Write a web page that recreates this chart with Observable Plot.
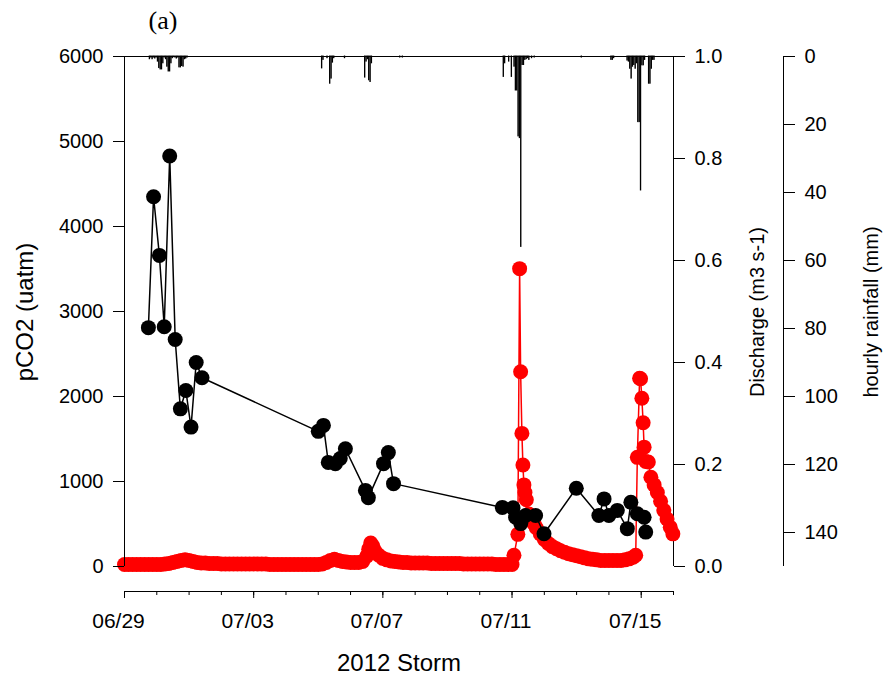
<!DOCTYPE html>
<html>
<head>
<meta charset="utf-8">
<script src="https://cdn.jsdelivr.net/npm/d3@7"></script>
<script src="https://cdn.jsdelivr.net/npm/@observablehq/plot@0.6"></script>
<style>
  html, body { margin: 0; padding: 0; background: white; }
  #chart { position: relative; width: 887px; height: 679px; overflow: hidden; }
  #chart svg { position: absolute; left: 0; top: 0; }
</style>
</head>
<body>
<div id="chart"></div>
<script>
// ---------- data (days / hours counted from 2012-06-29 00:00) ----------
const startDate = "2012-06-29";
const endDate = "2012-07-16";

// pCO2 (uatm), black series
const pco2Day = [0.74, 0.90, 1.08, 1.23, 1.40, 1.57, 1.73, 1.90, 2.06, 2.22, 2.40,
  6.00, 6.16, 6.31, 6.53, 6.68, 6.84, 7.46, 7.55, 8.02, 8.17, 8.33,
  11.70, 12.03, 12.11, 12.27, 12.42, 12.73, 12.99, 13.99, 14.69, 14.85, 15.00, 15.26, 15.57, 15.68, 15.88, 16.09, 16.14];
const pco2Value = [2810, 4350, 3660, 2820, 4830, 2670, 1855, 2070, 1640, 2400, 2220,
  1590, 1660, 1225, 1210, 1270, 1385, 895, 810, 1210, 1340, 975,
  695, 690, 580, 505, 600, 600, 385, 920, 600, 795, 600, 660, 445, 755, 620, 580, 405];

// Discharge (m3 s-1), red series
const dischargeDay = [
  0, 0.125, 0.25, 0.375, 0.5, 0.625, 0.75, 0.875,
  1, 1.125, 1.25, 1.375, 1.5, 1.625, 1.75, 1.875,
  2, 2.125, 2.25, 2.375, 2.5, 2.625, 2.75, 2.875,
  3, 3.125, 3.25, 3.375, 3.5, 3.625, 3.75, 3.875,
  4, 4.125, 4.25, 4.375, 4.5, 4.625, 4.75, 4.875,
  5, 5.125, 5.25, 5.375, 5.5, 5.625, 5.75, 5.875,
  6, 6.125, 6.25, 6.375, 6.5, 6.625, 6.75, 6.875,
  7, 7.125, 7.25, 7.375, 7.5, 7.5625, 7.625, 7.6875, 7.75, 7.875,
  8, 8.125, 8.25, 8.375, 8.5, 8.625, 8.75, 8.875,
  9, 9.125, 9.25, 9.375, 9.5, 9.625, 9.75, 9.875,
  10, 10.125, 10.25, 10.375, 10.5, 10.625, 10.75, 10.875,
  11, 11.125, 11.25, 11.375, 11.5, 11.625, 11.75, 11.875,
  12, 12.06, 12.18, 12.235, 12.266, 12.306, 12.337, 12.368, 12.40, 12.443, 12.52, 12.6, 12.68, 12.75, 12.875,
  13, 13.125, 13.25, 13.375, 13.5, 13.625, 13.75, 13.875,
  14, 14.125, 14.25, 14.375, 14.5, 14.625, 14.75, 14.875,
  15, 15.125, 15.25, 15.375, 15.5, 15.625, 15.75, 15.83, 15.88, 15.95, 15.98,
  16.02, 16.06, 16.09, 16.14, 16.22, 16.30, 16.4, 16.5, 16.6, 16.7, 16.8, 16.9, 16.98];
const dischargeValue = [
  0.004, 0.004, 0.004, 0.004, 0.004, 0.004, 0.004, 0.004,
  0.004, 0.004, 0.005, 0.006, 0.008, 0.010, 0.012, 0.013,
  0.012, 0.010, 0.008, 0.007, 0.007, 0.006, 0.006, 0.006,
  0.005, 0.005, 0.005, 0.005, 0.005, 0.005, 0.005, 0.005,
  0.005, 0.005, 0.005, 0.005, 0.004, 0.004, 0.004, 0.004,
  0.004, 0.004, 0.004, 0.004, 0.004, 0.004, 0.004, 0.004,
  0.004, 0.005, 0.008, 0.012, 0.014, 0.012, 0.010, 0.009,
  0.008, 0.008, 0.008, 0.010, 0.020, 0.034, 0.046, 0.040, 0.031, 0.022,
  0.016, 0.013, 0.011, 0.010, 0.009, 0.008, 0.008, 0.007,
  0.007, 0.007, 0.007, 0.007, 0.006, 0.006, 0.006, 0.006,
  0.006, 0.006, 0.006, 0.006, 0.005, 0.005, 0.005, 0.005,
  0.005, 0.005, 0.005, 0.005, 0.004, 0.004, 0.004, 0.004,
  0.004, 0.022, 0.063, 0.584, 0.382, 0.261, 0.199, 0.160, 0.145, 0.131, 0.103, 0.092, 0.084, 0.076, 0.064,
  0.053, 0.045, 0.039, 0.035, 0.031, 0.028, 0.025, 0.023,
  0.021, 0.019, 0.017, 0.015, 0.014, 0.013, 0.012, 0.012,
  0.012, 0.012, 0.012, 0.012, 0.013, 0.015, 0.018, 0.022, 0.214, 0.369, 0.368,
  0.330, 0.282, 0.234, 0.206, 0.205, 0.175, 0.160, 0.145, 0.128, 0.110, 0.093, 0.077, 0.064];

// hourly rainfall (mm), hour counted from 2012-06-29 00:00
const rainHour = [18, 19, 20, 21, 22, 23, 24, 25, 26, 27, 28, 29, 30, 31, 32, 33, 34, 35, 36, 37, 38, 39, 40, 41, 42, 43, 44, 45, 46,
  146, 147, 150, 152, 153, 154, 155, 163, 178, 179, 180, 181, 182, 183, 204, 206,
  281, 282, 285, 287, 289, 290, 291, 292, 293, 294, 295, 296, 297, 298, 299, 300, 302, 304, 339,
  361, 362, 363, 373, 374, 375, 376, 377, 378, 379, 380, 381, 382, 383, 384, 385, 386, 389, 390, 391, 392, 393];
const rainMM = [0.8, 0.3, 0.8, 0.3, 0.6, 0.3, 1.5, 3.4, 3.8, 3.8, 2.0, 0.3, 0.8, 3.0, 4.4, 4.4, 2.0, 0.5, 0.2, 0.3, 0.6, 0.3, 3.2, 3.2, 2.8, 3.0, 0.8, 0.6, 0.3,
  3.5, 1.0, 0.5, 8.0, 6.5, 1.8, 0.5, 0.5, 6.2, 1.5, 0.8, 7.0, 7.5, 2.0, 0.3, 0.3,
  6.0, 2.0, 1.5, 6.0, 3.0, 10, 10, 23.5, 24, 56, 2.5, 2.5, 1.0, 0.8, 0.5, 1.0, 0.5, 0.3, 0.3,
  1.0, 1.0, 0.5, 1.2, 1.5, 3.6, 6.5, 3.0, 2.5, 3.6, 2.0, 19.3, 19.3, 39.4, 2.6, 2.6, 1.0, 8.0, 8.0, 3.6, 1.0, 1.0];

// axis ticks / labels
const pco2Ticks = [0, 1000, 2000, 3000, 4000, 5000, 6000];
const dischargeTicks = [0, 0.2, 0.4, 0.6, 0.8, 1.0];
const rainTicks = [0, 20, 40, 60, 80, 100, 120, 140];
const dateLabels = ["2012-06-29", "2012-07-03", "2012-07-07", "2012-07-11", "2012-07-15"];
const titles = {left: "pCO2 (uatm)", discharge: "Discharge (m3 s-1)", rain: "hourly rainfall (mm)", x: "2012 Storm", panel: "(a)"};

// ---------- build tables ----------
const t0 = new Date(startDate + "T00:00:00Z");
const t1 = new Date(endDate + "T00:00:00Z");
const fromDays = (d) => new Date(+t0 + d * 864e5);
const pco2 = pco2Day.map((d, i) => ({date: fromDays(d), value: pco2Value[i]}));
const discharge = dischargeDay.map((d, i) => ({date: fromDays(d), value: dischargeValue[i]}));
const rain = rainHour.map((h, i) => ({date: fromDays(h / 24), mm: rainMM[i]}));
const dayTicks = d3.utcDay.range(t0, d3.utcDay.offset(t1, 1));
const labelTicks = dateLabels.map((s) => new Date(s + "T00:00:00Z"));
const fmt = d3.utcFormat("%m/%d");

const W = 887, H = 679;
const font = "'Liberation Sans', Arial, Helvetica, sans-serif";
const common = {
  width: W, height: H,
  marginTop: 56, marginLeft: 124, marginRight: 214, marginBottom: 88,
  style: {background: "transparent", overflow: "visible", fontFamily: font, fontSize: "20px", color: "black"}
};
const xOpts = {type: "utc", domain: [t0, t1]};
const insetBottom = 25;

// rain bars (bottom layer)
const rainPlot = Plot.plot({
  ...common,
  x: {...xOpts, axis: null},
  y: {domain: [0, 150], reverse: true, insetBottom, axis: null},
  marks: [
    Plot.rectY(rain, {x: "date", y: "mm", interval: "hour", fill: "black", stroke: "black", strokeWidth: 1})
  ]
});

// discharge (red) with its right axis
const dischargePlot = Plot.plot({
  ...common,
  x: {...xOpts, axis: null},
  y: {domain: [0, 1], insetBottom},
  marks: [
    Plot.ruleX([t1], {y1: 0, y2: 1, stroke: "black"}),
    Plot.axisY(dischargeTicks, {anchor: "right", tickSize: 11, tickPadding: 10, tickFormat: d3.format(".1f"), label: null}),
    Plot.text([titles.discharge], {frameAnchor: "right", textAnchor: "middle", lineAnchor: "middle", rotate: -90, dx: 84, dy: -12, fontSize: 20}),
    Plot.line(discharge, {x: "date", y: "value", stroke: "#ff0000", strokeWidth: 1.5}),
    Plot.dot(discharge, {x: "date", y: "value", r: 7.5, fill: "#ff0000", stroke: "none"})
  ]
});

// rainfall axis (detached, further right)
const rainAxisPlot = Plot.plot({
  width: W, height: H,
  marginTop: 56, marginBottom: 88, marginLeft: 700, marginRight: 104,
  style: common.style,
  x: {domain: [0, 1], axis: null},
  y: {domain: [0, 150], reverse: true, insetBottom},
  marks: [
    Plot.ruleX([1], {y1: 0, y2: 150, stroke: "black"}),
    Plot.axisY(rainTicks, {anchor: "right", tickSize: 11, tickPadding: 10, label: null}),
    Plot.text([titles.rain], {frameAnchor: "right", textAnchor: "middle", lineAnchor: "middle", rotate: -90, dx: 88, dy: -12, fontSize: 20})
  ]
});

// main pCO2 plot (top layer)
const mainPlot = Plot.plot({
  ...common,
  x: {...xOpts},
  y: {domain: [0, 6000], insetBottom},
  marks: [
    Plot.ruleY([6000], {stroke: "black"}),
    Plot.ruleX([t0], {y1: 0, y2: 6000, stroke: "black"}),
    Plot.axisY(pco2Ticks, {anchor: "left", tickSize: 11, tickPadding: 10, tickFormat: d3.format("d"), label: null}),
    Plot.frame({anchor: "bottom", stroke: "black"}),
    Plot.axisX(dayTicks, {tickSize: 4, tickFormat: () => "", label: null}),
    Plot.axisX(labelTicks, {tickSize: 7, tickFormat: () => "", label: null}),
    Plot.text(labelTicks, {x: (d) => d, text: (d) => fmt(d), frameAnchor: "bottom", lineAnchor: "middle", textAnchor: "middle", dx: -6, dy: 30, fontSize: 21}),
    Plot.line(pco2, {x: "date", y: "value", stroke: "black", strokeWidth: 1.5}),
    Plot.dot(pco2, {x: "date", y: "value", r: 7.5, fill: "black", stroke: "none"}),
    Plot.text([titles.left], {frameAnchor: "left", textAnchor: "middle", lineAnchor: "middle", rotate: -90, dx: -99, dy: -12, fontSize: 24}),
    Plot.text([titles.x], {frameAnchor: "bottom", textAnchor: "middle", lineAnchor: "middle", dy: 72, fontSize: 24}),
    Plot.text([titles.panel], {frameAnchor: "top-left", textAnchor: "start", lineAnchor: "middle", dx: 24, dy: -36, fontSize: 26, fontFamily: "'Liberation Serif', 'Times New Roman', serif"})
  ]
});

const chart = document.getElementById("chart");
chart.append(rainPlot, dischargePlot, rainAxisPlot, mainPlot);
</script>
</body>
</html>
